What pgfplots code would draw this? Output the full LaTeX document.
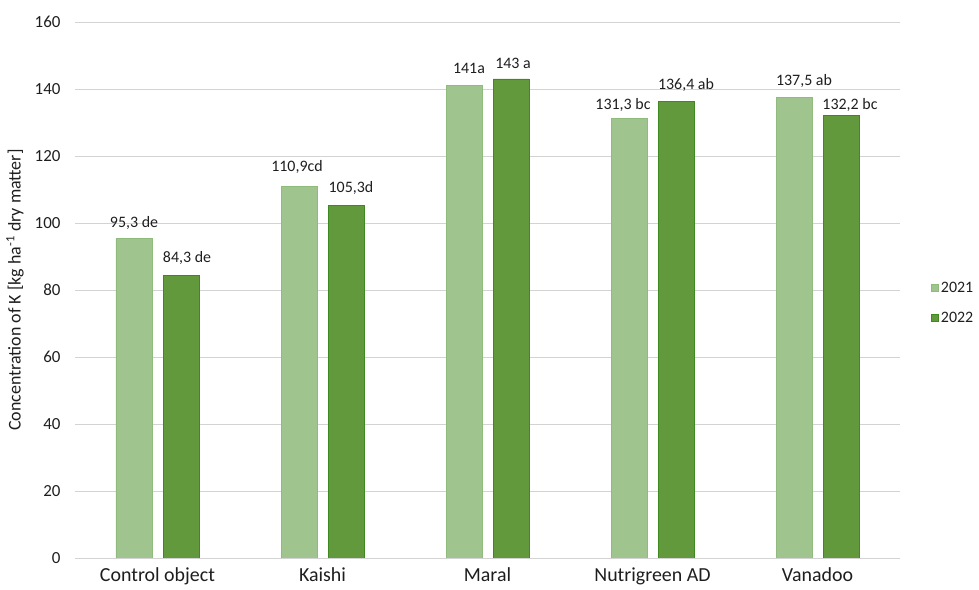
\documentclass[border=0pt]{standalone}
\usepackage{pgfplots}
\pgfplotsset{compat=1.18}
\usepackage{fontspec}
\setmainfont{Carlito}
\definecolor{cA}{HTML}{A0C48E}
\definecolor{cAe}{HTML}{8FBC7C}
\definecolor{cB}{HTML}{62993D}
\definecolor{cBe}{HTML}{3E8A1E}
\definecolor{gridc}{HTML}{D3D3D3}
\definecolor{txt}{HTML}{1E1E1E}
\begin{document}
\begin{tikzpicture}
\useasboundingbox (0,0) rectangle (979bp,590bp);
\begin{axis}[
  at={(75bp,32bp)}, anchor=south west,
  width=825bp, height=536bp, scale only axis,
  xmin=-0.5, xmax=4.5, ymin=0, ymax=160,
  ytick={0,20,...,160},
  xtick={0,...,4},
  xticklabels={Control object, Kaishi, Maral, Nutrigreen AD, Vanadoo},
  ymajorgrids, grid style={gridc, line width=0.8bp},
  axis line style={draw=none},
  major tick length=0pt,
  /pgf/number format/assume math mode=true,
  yticklabel style={font=\fontsize{17}{19}\selectfont, text=txt, xshift=-11bp},
  xticklabel style={font=\fontsize{20}{22}\selectfont, text=txt, yshift=-6bp},
  ylabel={Concentration of K [kg ha\textsuperscript{-1} dry matter]},
  ylabel style={at={(axis description cs:-0.0727,0.5)}, anchor=center, font=\fontsize{18}{20}\selectfont, text=txt},
  ybar=11bp, bar width=36bp,
  point meta=explicit symbolic,
  nodes near coords,
  visualization depends on={value \thisrow{dx} \as \dx},
  visualization depends on={value \thisrow{dy} \as \dy},
  every node near coord/.append style={font=\fontsize{16}{18}\selectfont, text=txt, anchor=center, xshift=\dx bp, yshift=\dy bp},
  legend style={at={(axis description cs:1.0,0.476)}, anchor=west, xshift=28bp, draw=none, fill=none,
    font=\fontsize{16}{18}\selectfont, text=txt, row sep=14bp},
  legend cell align=left,
  legend image code/.code={\fill[#1] (0bp,-3.5bp) rectangle (7bp,3.5bp);},
]
\addplot[fill=cA, draw=cAe, line width=0.8bp] table[x=x, y=y, meta=l] {
x y l dx dy
0 95.3 {95,3 de} 0 15.7
1 110.9 {110,9cd} -2 19
2 141 {141a} 5 17.6
3 131.3 {131,3 bc} -6 13
4 137.5 {137,5 ab} 10 16.7
};
\addplot[fill=cB, draw=cBe, line width=0.8bp] table[x=x, y=y, meta=l] {
x y l dx dy
0 84.3 {84,3 de} 6 18
1 105.3 {105,3d} 5 17
2 143 {143 a} 2 16
3 136.4 {136,4 ab} 10 16
4 132.2 {132,2 bc} 9 10
};
\legend{2021, 2022}
\end{axis}
\end{tikzpicture}
\end{document}
